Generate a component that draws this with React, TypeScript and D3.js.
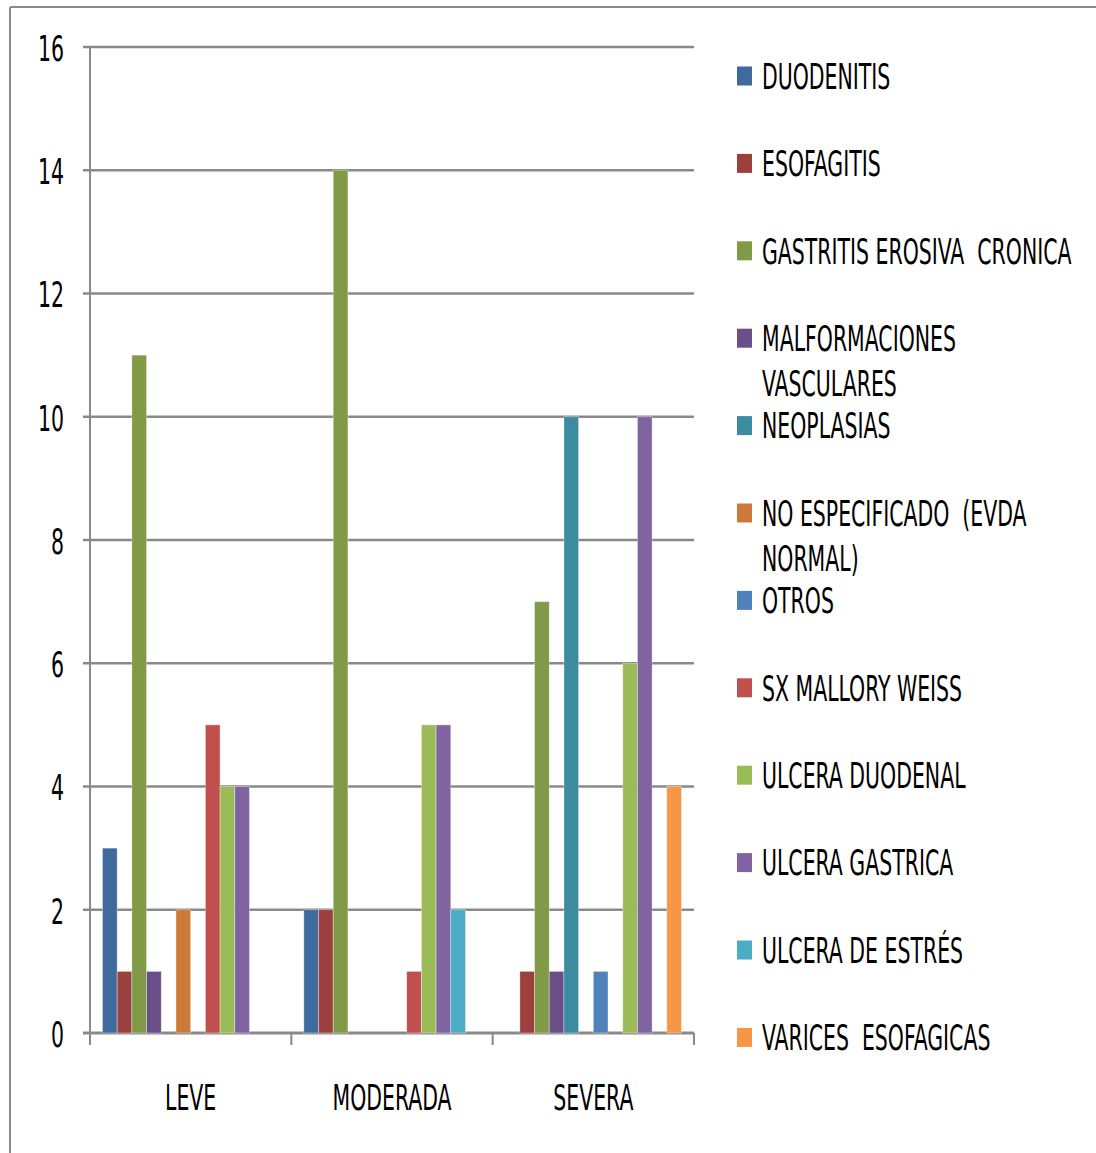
import React from "react";
import * as d3 from "d3";

const categories = ["LEVE", "MODERADA", "SEVERA"];
const seriesNames = [
  "DUODENITIS",
  "ESOFAGITIS",
  "GASTRITIS EROSIVA  CRONICA",
  "MALFORMACIONES VASCULARES",
  "NEOPLASIAS",
  "NO ESPECIFICADO  (EVDA NORMAL)",
  "OTROS",
  "SX MALLORY WEISS",
  "ULCERA DUODENAL",
  "ULCERA GASTRICA",
  "ULCERA DE ESTRÉS",
  "VARICES ESOFAGICAS",
];
const legendLines = [
  ["DUODENITIS"],
  ["ESOFAGITIS"],
  ["GASTRITIS EROSIVA  CRONICA"],
  ["MALFORMACIONES", "VASCULARES"],
  ["NEOPLASIAS"],
  ["NO ESPECIFICADO  (EVDA", "NORMAL)"],
  ["OTROS"],
  ["SX MALLORY WEISS"],
  ["ULCERA DUODENAL"],
  ["ULCERA GASTRICA"],
  ["ULCERA DE ESTRÉS"],
  ["VARICES  ESOFAGICAS"],
];
const seriesColors = [
  "#3F6A9E", "#9C403E", "#809A48", "#6A5088", "#3D8BA1", "#CD7A38",
  "#4F81BD", "#C0504D", "#9BBB59", "#8064A2", "#4BACC6", "#F79646",
];
// values per series: [LEVE, MODERADA, SEVERA]
const duodenitis = [3, 2, 0];
const esofagitis = [1, 2, 1];
const gastritis = [11, 14, 7];
const malformaciones = [1, 0, 1];
const neoplasias = [0, 0, 10];
const noEspecificado = [2, 0, 0];
const otros = [0, 0, 1];
const mallory = [5, 1, 0];
const ulceraDuodenal = [4, 5, 6];
const ulceraGastrica = [4, 5, 10];
const ulceraEstres = [0, 2, 0];
const varices = [0, 0, 4];
const seriesValues = [
  duodenitis, esofagitis, gastritis, malformaciones, neoplasias, noEspecificado,
  otros, mallory, ulceraDuodenal, ulceraGastrica, ulceraEstres, varices,
];
const yTicks = [0, 2, 4, 6, 8, 10, 12, 14, 16];

const W = 1096;
const H = 1153;
const FONT = "'Liberation Sans Narrow', 'DejaVu Sans Condensed', 'Liberation Sans', Arial, sans-serif";
const SX = 0.65;
const GRID = "#898989";

function CText({ x, y, anchor = "start", size = 35, children }: any) {
  return (
    <g transform={`translate(${x},${y}) scale(${SX},1)`}>
      <text
        x={0}
        y={0}
        textAnchor={anchor}
        dominantBaseline="central"
        fontFamily={FONT}
        fontSize={size}
        fill="#000"
        style={{ whiteSpace: "pre" }}
      >
        {children}
      </text>
    </g>
  );
}

export default function App() {
  const x0 = 90, x1 = 694, yTop = 47, yBot = 1033;
  const xGroup = d3.scaleBand<string>().domain(categories).range([x0, x1]).paddingInner(0).paddingOuter(0);
  const xSeries = d3
    .scaleBand<number>()
    .domain(d3.range(seriesNames.length))
    .range([0, xGroup.bandwidth()])
    .paddingInner(0)
    .paddingOuter(0.85);
  const y = d3.scaleLinear().domain([0, 16]).range([yBot, yTop]);

  const legendX = 737;
  const legendY0 = 76;
  const legendStep = 87.4;

  return (
    <svg width={W} height={H} style={{ position: "absolute", left: 0, top: 0, background: "#fff" }}>
      <rect x={0} y={0} width={W} height={H} fill="#fff" />
      {/* outer border */}
      <line x1={10} y1={7} x2={W} y2={7} stroke={GRID} strokeWidth={2} />
      <line x1={10} y1={7} x2={10} y2={H} stroke={GRID} strokeWidth={2} />

      {/* gridlines */}
      {yTicks.map((t) => (
        <g key={t}>
          <line x1={x0 - 7} x2={x1} y1={y(t)} y2={y(t)} stroke={GRID} strokeWidth={t === 0 ? 3 : 2.5} />
          <CText x={64} y={y(t) + 2} anchor="end">{t}</CText>
        </g>
      ))}
      {/* y axis line */}
      <line x1={x0} x2={x0} y1={yTop} y2={yBot + 12} stroke={GRID} strokeWidth={2} />
      {/* x ticks */}
      {[...categories.map((c) => xGroup(c) as number), x1].map((xx, i) => (
        <line key={i} x1={xx} x2={xx} y1={yBot} y2={yBot + 12} stroke={GRID} strokeWidth={2} />
      ))}

      {/* bars */}
      {categories.map((c, ci) => (
        <g key={c} transform={`translate(${xGroup(c)},0)`}>
          {seriesValues.map((vals, si) =>
            vals[ci] > 0 ? (
              <rect
                key={si}
                x={xSeries(si)}
                y={y(vals[ci])}
                width={xSeries.bandwidth()}
                height={y(0) - y(vals[ci])}
                fill={seriesColors[si]}
                stroke="rgba(255,255,255,0.45)"
                strokeWidth={0.8}
              />
            ) : null
          )}
        </g>
      ))}

      {/* category labels */}
      {categories.map((c) => (
        <CText key={c} x={(xGroup(c) as number) + xGroup.bandwidth() / 2} y={1098} anchor="middle">
          {c}
        </CText>
      ))}

      {/* legend */}
      {legendLines.map((lines, i) => {
        const cy = legendY0 + i * legendStep;
        return (
          <g key={i}>
            <rect x={legendX} y={cy - 9.5} width={15} height={19} fill={seriesColors[i]} />
            {lines.map((ln, li) => (
              <CText key={li} x={762} y={cy + li * 45 + 1}>
                {ln}
              </CText>
            ))}
          </g>
        );
      })}
    </svg>
  );
}
